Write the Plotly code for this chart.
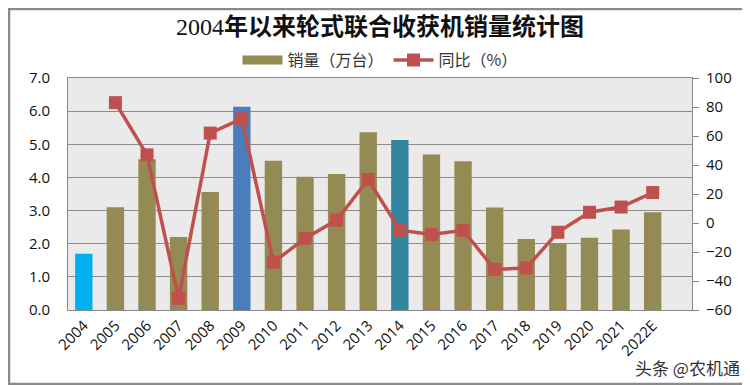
import plotly.graph_objects as go

years = ["2004","2005","2006","2007","2008","2009","2010","2011","2012","2013",
         "2014","2015","2016","2017","2018","2019","2020","2021","2022E"]
sales = [1.7, 3.1, 4.55, 2.2, 3.56, 6.13, 4.5, 4.02, 4.1, 5.36,
         5.13, 4.69, 4.49, 3.09, 2.14, 2.02, 2.18, 2.43, 2.95]
yoy_years = years[1:]
yoy = [83, 47, -52, 62, 72, -27, -10.6, 2, 30, -5, -8, -5, -32, -31, -6.4, 7.4, 11, 21]

olive = "#948A54"
red = "#C0504D"
bar_colors = [olive] * len(years)
bar_colors[0] = "#00B0F0"
bar_colors[5] = "#4A7EBB"
bar_colors[10] = "#31859C"

fig = go.Figure()
fig.add_trace(go.Bar(x=years, y=sales, name="销量（万台）", marker_color=bar_colors,
                     marker_line_width=0, yaxis="y", showlegend=False))
# legend proxy: wide olive rectangle
fig.add_trace(go.Scatter(x=[None], y=[None], name="销量（万台）", mode="lines",
                         line=dict(color=olive, width=9)))
fig.add_trace(go.Scatter(x=yoy_years, y=yoy, name="同比（%）", mode="lines+markers",
                         line=dict(color=red, width=3.5),
                         marker=dict(symbol="square", size=13, color=red),
                         yaxis="y2"))

# page has 8px body margin; figure sized to fit the 750x385 window
W, H = 742, 377
L, R, T, B = 60, 58, 70, 75
pw, ph = W - L - R, H - T - B

fig.update_layout(
    width=W, height=H,
    margin=dict(l=L, r=R, t=T, b=B, autoexpand=False),
    paper_bgcolor="white",
    plot_bgcolor="#EAEAEA",
    bargap=0.45,
    font=dict(family="Noto Sans CJK SC, Noto Sans", color="#222"),
    title=dict(text="<span style='font-family:Liberation Serif;font-weight:normal'>2004</span><b>年以来轮式联合收获机销量统计图</b>",
               x=0.5, xref="paper", yref="container", y=1 - 19 / H, yanchor="middle",
               font=dict(size=24, family="Noto Sans CJK SC", color="#111")),
    legend=dict(orientation="h", x=0.5, xanchor="center", y=1.0 + 18 / ph, yanchor="middle",
                font=dict(size=16, color="#333"), traceorder="normal", itemwidth=40,
                bgcolor="rgba(0,0,0,0)"),
    xaxis=dict(type="category", tickangle=-45, tickfont=dict(size=15, family="Open Sans", color="#111"),
               showline=True, linecolor="#888", mirror=True, ticks="", showgrid=False),
    yaxis=dict(range=[0, 7], dtick=1, tickformat=".1f", showgrid=True, gridcolor="#8C8C8C",
               gridwidth=1, tickfont=dict(size=15, family="Open Sans", color="#111"),
               showline=True, linecolor="#888", zeroline=False, ticks="", ticklabelstandoff=14),
    yaxis2=dict(range=[-60, 100], dtick=20, overlaying="y", side="right", showgrid=False,
                tickfont=dict(size=15, family="Open Sans", color="#111"), zeroline=False,
                showline=True, linecolor="#888", ticks="outside", ticklen=6, tickcolor="#888",
                ticklabelstandoff=4),
    shapes=[dict(type="rect", xref="paper", yref="paper",
                 x0=-(L - 1) / pw, x1=1 + (R - 1) / pw, y0=-(B - 1) / ph, y1=1 + (T - 1) / ph,
                 line=dict(color="#8A8A8A", width=2.5))],
    annotations=[dict(text="头条 @农机通", xref="paper", yref="paper",
                      x=(734 - L) / pw, y=-(359 - (H - B)) / ph, xanchor="right", yanchor="middle",
                      showarrow=False, font=dict(size=17, color="#333", family="Noto Sans CJK SC"))],
)

fig.write_html("out.html")
